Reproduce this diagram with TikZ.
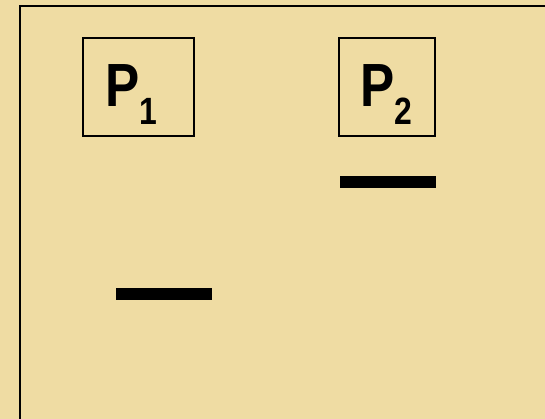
\documentclass[tikz,border=0pt]{standalone}
\usepackage{fontspec}
\setmainfont{Liberation Sans}
\newfontfamily\narrowsans{Liberation Sans}[FakeStretch=0.84]
\usepackage{tikz}
\usetikzlibrary{positioning}

\definecolor{parchment}{RGB}{239,220,163}

\tikzset{
  pbox/.style={draw,line width=1.5pt,minimum height=98pt,inner sep=0pt},
  plabel/.style={anchor=base west,inner sep=0pt,font=\narrowsans\fontsize{61}{61}\bfseries\selectfont},
  level/.style={line width=11.5pt}
}
\newcommand{\subnum}[1]{\raisebox{-18pt}{\fontsize{38}{38}\bfseries\selectfont #1}}

\begin{document}
\begin{tikzpicture}[x=1pt,y=-1pt]
\clip (0,0) rectangle (545,419);
\fill[parchment] (0,0) rectangle (545,419);
% outer frame, runs off the right and bottom edge
\draw[line width=2.2pt] (20,6) rectangle (570,440);

% the two boxes
\node[pbox,minimum width=111pt] (p1) at (138.5,87) {};
\node[pbox,minimum width=96pt] (p2) at (387,87) {};
\node[plabel] (p1t) at (105,107) {P\subnum{1}};
\node[plabel] (p2t) at (360,107) {P\subnum{2}};

% levels
\coordinate (l1a) at (116,294);
\coordinate (l1b) at (212,294);
\coordinate (l2a) at (340,182);
\coordinate (l2b) at (436,182);
\draw[level] (l1a) -- (l1b);
\draw[level] (l2a) -- (l2b);
\end{tikzpicture}
\end{document}
